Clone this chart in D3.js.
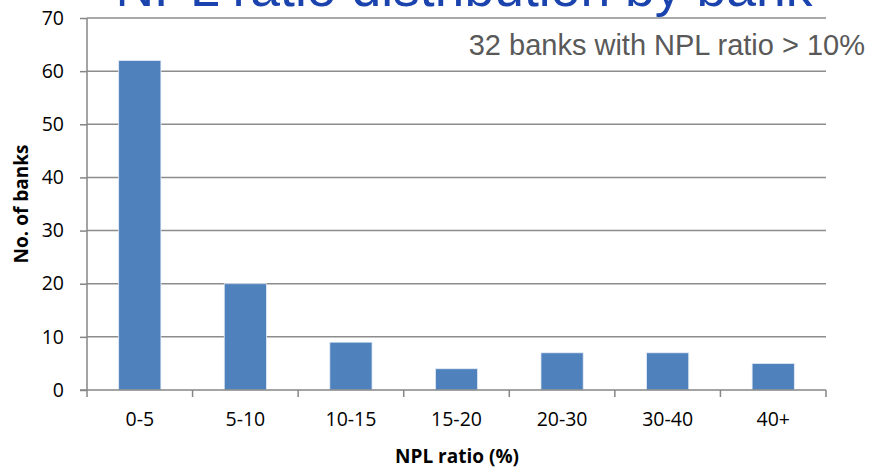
<!DOCTYPE html>
<html><head><meta charset="utf-8">
<script src="https://cdn.jsdelivr.net/npm/d3@7"></script>
<style>body{margin:0;background:#fff}</style>
</head><body>
<svg id="c" width="870" height="469"></svg>
<script>
const categories = ["0-5","5-10","10-15","15-20","20-30","30-40","40+"];
const values = [62,20,9,4,7,7,5];
const yTicks = [0,10,20,30,40,50,60,70];
const title = "NPL ratio distribution by bank";
const note = "32 banks with NPL ratio > 10%";
const xTitle = "NPL ratio (%)";
const yTitle = "No. of banks";

const svg = d3.select("#c");
const L = 87, R = 826, T = 18, B = 390;
const x = d3.scaleBand().domain(categories).range([L, R]).paddingInner(0.6).paddingOuter(0.3);
const xb = d3.scaleBand().domain(categories).range([L, R]);
const y = d3.scaleLinear().domain([0,70]).range([B, T]);
const font = "'Open Sans', Calibri, sans-serif";

// gridlines
svg.append("g").selectAll("line").data(yTicks.filter(d=>d>0)).join("line")
  .attr("x1", L).attr("x2", R).attr("y1", d=>y(d)).attr("y2", d=>y(d))
  .attr("stroke", "#8c8c8c").attr("stroke-width", 1.5);

// bars
svg.append("g").selectAll("rect").data(values).join("rect")
  .attr("x", (d,i)=>x(categories[i])).attr("width", x.bandwidth())
  .attr("y", d=>y(d)).attr("height", d=>B - y(d))
  .attr("fill", "#4f81bd").attr("stroke","#e4ecf6").attr("stroke-width",0.8);

// y axis
const ya = svg.append("g").attr("transform", `translate(${L},0)`)
  .call(d3.axisLeft(y).tickValues(yTicks).tickSize(7).tickPadding(16));
ya.select(".domain").attr("stroke","#868686").attr("stroke-width",1.5).attr("d", `M0,${B}V${T}`);
ya.selectAll(".tick line").attr("stroke","#868686").attr("stroke-width",1.5);
ya.selectAll("text").attr("font-family", font).attr("font-size", 19.5).attr("fill","#000");

// x axis
const xa = svg.append("g").attr("transform", `translate(0,${B})`)
  .call(d3.axisBottom(xb).tickSize(0).tickPadding(22));
xa.select(".domain").attr("stroke","#868686").attr("stroke-width",1.5).attr("d", `M${L-7},0H${R}`);
xa.selectAll("text").attr("font-family", font).attr("font-size", 19.5).attr("fill","#000");
xa.append("g").selectAll("line").data(d3.range(categories.length+1)).join("line")
  .attr("x1", i=>L + i*xb.step()).attr("x2", i=>L + i*xb.step())
  .attr("y1", 0).attr("y2", 7).attr("stroke","#868686").attr("stroke-width",1.5);

// titles
svg.append("text").attr("x", 457).attr("y", 463).attr("text-anchor","middle")
  .attr("font-family", font).attr("font-size", 19).attr("font-weight","bold").text(xTitle);
svg.append("text").attr("transform", "translate(28,204) rotate(-90)").attr("text-anchor","middle")
  .attr("font-family", font).attr("font-size", 19).attr("font-weight","bold").text(yTitle);

svg.append("text").attr("x", 464).attr("y", 6).attr("text-anchor","middle")
  .attr("font-family","'Liberation Sans', Arial, sans-serif").attr("font-size", 53.5)
  .attr("fill","#1a43ad").text(title);
svg.append("text").attr("x", 865).attr("y", 55).attr("text-anchor","end")
  .attr("font-family","'Liberation Sans', Arial, sans-serif").attr("font-size", 29)
  .attr("fill","#595959").text(note);
</script>
</body></html>
